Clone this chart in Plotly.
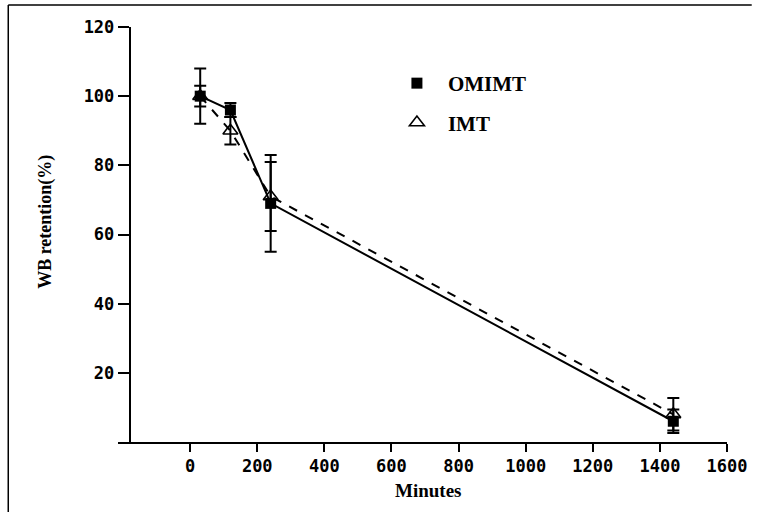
import plotly.graph_objects as go

minutes = [30, 120, 240, 1440]
omimt = [100, 96, 69, 6]
omimt_err = [8, 2, 14, 3.4]
imt = [100, 90, 71, 8]
imt_err = [3, 4, 10, 4.7]
x_ticks = [0, 200, 400, 600, 800, 1000, 1200, 1400, 1600]
y_ticks = [20, 40, 60, 80, 100, 120]

serif = "Liberation Serif"
mono = "DejaVu Sans Mono"

fig = go.Figure()

# lines
fig.add_trace(go.Scatter(x=minutes, y=imt, mode="lines",
                         line=dict(color="black", width=2, dash="dash"),
                         showlegend=False, hoverinfo="skip"))
fig.add_trace(go.Scatter(x=minutes, y=omimt, mode="lines",
                         line=dict(color="black", width=2),
                         showlegend=False, hoverinfo="skip"))
# markers with error bars
fig.add_trace(go.Scatter(x=minutes, y=omimt, mode="markers", name="OMIMT",
                         legendgroup="a",
                         marker=dict(symbol="square", size=11, color="black"),
                         error_y=dict(type="data", array=omimt_err, color="black",
                                      thickness=2, width=6)))
fig.add_trace(go.Scatter(x=minutes, y=imt, mode="markers", name="IMT",
                         legendgroup="b",
                         marker=dict(symbol="triangle-up-open", size=13, color="black",
                                     line=dict(width=1.6, color="black")),
                         error_y=dict(type="data", array=imt_err, color="black",
                                      thickness=2, width=6)))

L, R, T, B = 118, 25, 27, 70
W, H = 759, 512
pw, ph = W - L - R, H - T - B
xmin, xmax = -215, 1600
yaxis_x = -180

tick_font = dict(family=mono, size=17, color="black", weight="bold")

fig.update_layout(
    width=W, height=H,
    margin=dict(l=L, r=R, t=T, b=B, pad=0),
    paper_bgcolor="white", plot_bgcolor="white",
    xaxis=dict(range=[xmin, xmax], tickvals=x_ticks, showgrid=False, zeroline=False,
               showline=True, linecolor="black", linewidth=2,
               ticks="outside", ticklen=8, tickwidth=2, tickcolor="black",
               tickfont=tick_font, anchor="y"),
    yaxis=dict(range=[0, 120], tickvals=y_ticks, showgrid=False, zeroline=False,
               showline=True, linecolor="black", linewidth=2,
               ticks="outside", ticklen=11, tickwidth=2, tickcolor="black",
               tickfont=tick_font,
               anchor="free", position=(yaxis_x - xmin) / (xmax - xmin)),
    legend=dict(x=(389 - L) / pw, y=(442 - 63) / ph, xanchor="left", yanchor="top",
                bgcolor="rgba(0,0,0,0)", borderwidth=0, tracegroupgap=9,
                font=dict(family=serif, size=21, color="black", weight="bold"),
                itemwidth=52),
    annotations=[
        dict(text="<b>Minutes</b>", x=(432 - L) / pw, y=(442 - 490) / ph,
             xref="paper", yref="paper", showarrow=False,
             xanchor="center", yanchor="middle",
             font=dict(family=serif, size=19, color="black")),
        dict(text="<b>WB retention(%)</b>", x=(45 - L) / pw, y=(442 - 222) / ph,
             xref="paper", yref="paper", showarrow=False, textangle=-90,
             xanchor="center", yanchor="middle",
             font=dict(family=serif, size=18, color="black")),
    ],
    shapes=[
        dict(type="line", xref="paper", yref="paper",
             x0=(7 - L) / pw, x1=(7 - L) / pw, y0=(442 - 5) / ph, y1=(442 - 512) / ph,
             line=dict(color="black", width=1.5)),
        dict(type="line", xref="paper", yref="paper",
             x0=(7 - L) / pw, x1=(759 - L) / pw, y0=(442 - 5) / ph, y1=(442 - 5) / ph,
             line=dict(color="black", width=1.5)),
    ],
)

fig.write_html("out.html")
